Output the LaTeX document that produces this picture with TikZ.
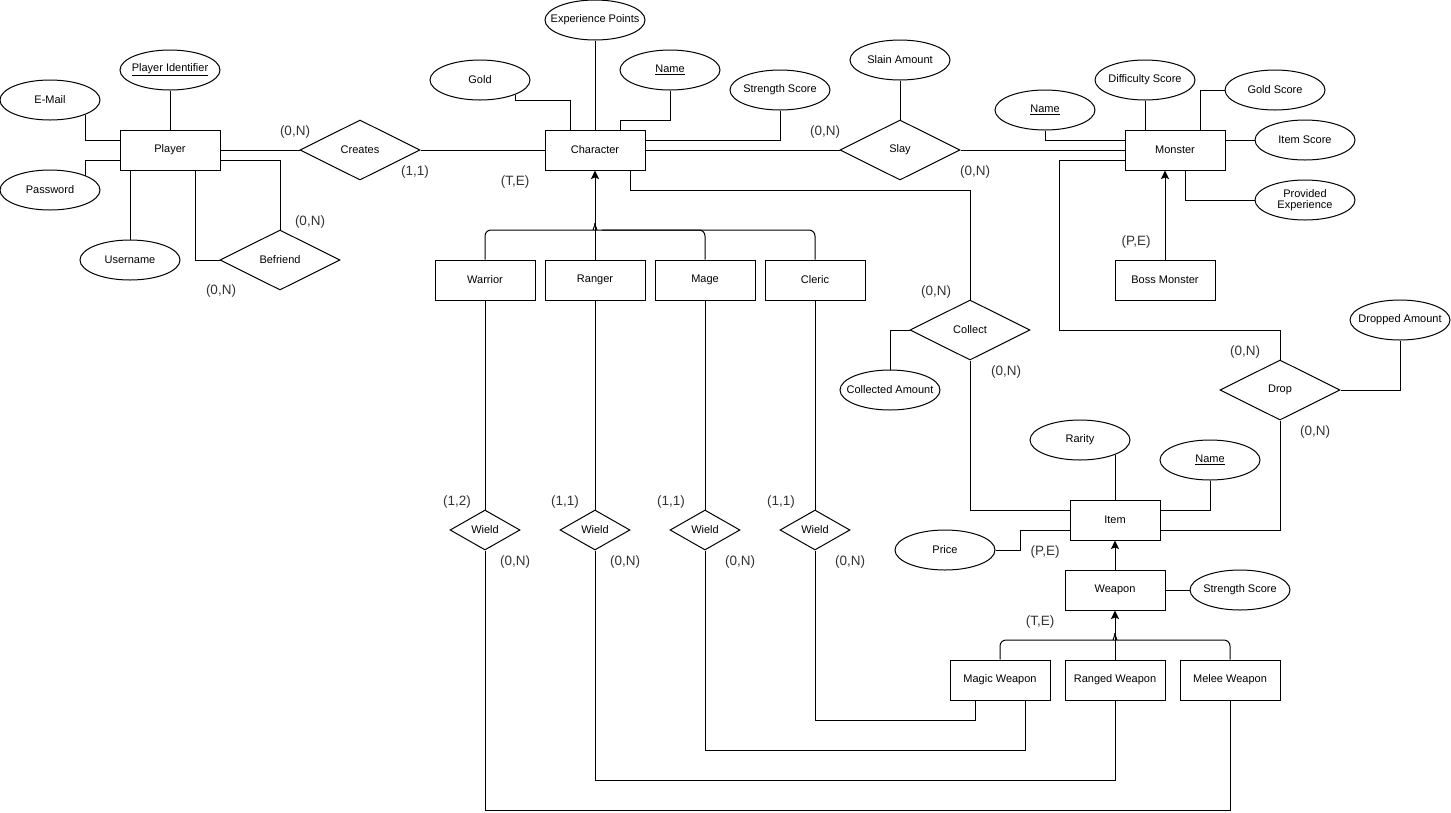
\documentclass[tikz,border=0pt]{standalone}
\usepackage{fontspec}
\setmainfont{Liberation Sans}
\usetikzlibrary{shapes.geometric,arrows.meta,calc}
\newcommand{\zw}[1]{\makebox[0pt]{#1}}
\begin{document}
\begin{tikzpicture}[x=1pt,y=-1pt,line width=1pt,
 every node/.style={font=\fontsize{11}{13}\selectfont},
 ent/.style={draw,rectangle,minimum width=100pt,minimum height=40pt,inner sep=0pt},
 attr/.style={draw,ellipse,minimum width=100pt,minimum height=40pt,inner sep=0pt},
 rel/.style={draw,diamond,aspect=2,minimum width=120pt,minimum height=60pt,inner sep=0pt},
 wrel/.style={rel,minimum width=70pt,minimum height=40pt},
 card/.style={font=\fontsize{13.5}{16}\selectfont,inner sep=0pt,text=black!80},
 isa/.style={-{Stealth[length=8.5pt,width=8pt,inset=1.5pt]}}]
\useasboundingbox (0,0) rectangle (1451,812);

% Player side
\node[ent] (player) at (170,150) {Player};
\node[attr] (pid) at (170,70) {\zw{\underline{Player Identifier}}};
\node[attr] (email) at (50,100) {\zw{E-Mail}};
\node[attr] (password) at (50,190) {\zw{Password}};
\node[attr] (username) at (130,260) {\zw{Username}};
\node[rel] (befriend) at (280,260) {\zw{Befriend}};
\node[rel] (creates) at (360,150) {\zw{Creates}};

% Character
\node[ent] (character) at (595,150) {Character};
\node[attr] (exp) at (595,20) {\zw{Experience Points}};
\node[attr] (gold) at (480,80) {\zw{Gold}};
\node[attr] (cname) at (670,70) {\zw{\underline{Name}}};
\node[attr] (cstr) at (780,90) {\zw{Strength Score}};
\node[ent] (warrior) at (485,280) {Warrior};
\node[ent] (ranger) at (595,280) {Ranger};
\node[ent] (mage) at (705,280) {Mage};
\node[ent] (cleric) at (815,280) {Cleric};

% Slay / Monster
\node[rel] (slay) at (900,150) {\zw{Slay}};
\node[attr] (slain) at (900,60) {\zw{Slain Amount}};
\node[ent] (monster) at (1175,150) {Monster};
\node[attr] (mname) at (1045,110) {\zw{\underline{Name}}};
\node[attr] (diff) at (1145,80) {\zw{Difficulty Score}};
\node[attr] (goldscore) at (1275,90) {\zw{Gold Score}};
\node[attr] (itemscore) at (1305,140) {\zw{Item Score}};
\node[attr] (provexp) at (1305,200) {\zw{\begin{tabular}{@{}c@{}}Provided\\[-2pt]Experience\end{tabular}}};
\node[ent] (boss) at (1165,280) {Boss Monster};

% Collect / Drop / Item
\node[rel] (collect) at (970,330) {\zw{Collect}};
\node[attr] (collamt) at (890,390) {\zw{Collected Amount}};
\node[rel] (drop) at (1280,390) {\zw{Drop}};
\node[attr] (dropped) at (1400,320) {\zw{Dropped Amount}};
\node[ent,minimum width=90pt] (item) at (1115,520) {Item};
\node[attr] (rarity) at (1080,440) {\zw{Rarity}};
\node[attr] (iname) at (1210,460) {\zw{\underline{Name}}};
\node[attr] (price) at (945,550) {\zw{Price}};
\node[ent] (weapon) at (1115,590) {Weapon};
\node[attr] (wstr) at (1240,590) {\zw{Strength Score}};
\node[ent] (magic) at (1000,680) {Magic Weapon};
\node[ent] (ranged) at (1115,680) {Ranged Weapon};
\node[ent] (melee) at (1230,680) {Melee Weapon};

% Wield
\node[wrel] (w1) at (485,530) {\zw{Wield}};
\node[wrel] (w2) at (595,530) {\zw{Wield}};
\node[wrel] (w3) at (705,530) {\zw{Wield}};
\node[wrel] (w4) at (815,530) {\zw{Wield}};

\coordinate (cb) at (595,230);
\coordinate (wb) at (1115,640);

% Player connectors
\draw (pid.south) -- (player.north);
\draw ([yshift=10pt]player.west) -| (email.south east);
\draw ([yshift=-10pt]player.west) -| (password.north east);
\draw (username.north) -- (username.north |- player.south);
\draw ([xshift=25pt]player.south) |- (befriend.west);
\draw ([yshift=-10pt]player.east) -| (befriend.north);
\draw (player.east) -- (creates.west);
\draw (creates.east) -- (character.west);

% Character connectors
\draw (exp.south) -- (character.north);
\draw (gold.south east) -- (gold.south east |- gold.south) -| ([xshift=-25pt]character.north);
\draw (cname.south) -- ++(0,30) -| ([xshift=25pt]character.north);
\draw (cstr.south) |- ([yshift=10pt]character.east);
\draw (character.east) -- (slay.west);
\draw ([xshift=35pt]character.south) -- ++(0,20) -| (collect.north);

% Specialisation of Character
\draw[isa] (ranger.north) -- (character.south);
\draw[rounded corners=6pt] (warrior.north) |- ([xshift=-7pt]cb) [sharp corners] to[out=0,in=-90] ([yshift=7pt]cb);
\draw[rounded corners=6pt] (mage.north) |- ([xshift=7pt]cb) [sharp corners] to[out=180,in=-90] ([yshift=7pt]cb);
\draw[rounded corners=6pt] (cleric.north) |- ([xshift=7pt]cb);

% Slay / Monster connectors
\draw (slain.south) -- (slay.north);
\draw (slay.east) -- (monster.west);
\draw (mname.south) |- ([yshift=10pt]monster.west);
\draw (diff.south) -- (diff.south |- monster.north);
\draw ([xshift=25pt]monster.north) |- (goldscore.west);
\draw ([yshift=10pt]monster.east) -- (itemscore.west);
\draw ([xshift=10pt]monster.south) |- (provexp.west);
\draw[isa] (boss.north) -- (boss.north |- monster.south);
\draw ([yshift=-10pt]monster.west) -- ++(-65,0) -- ++(0,170) -| (drop.north);

% Drop / Collect / Item connectors
\draw (dropped.south) |- (drop.east);
\draw (drop.south) |- ([yshift=-10pt]item.east);
\draw (collamt.north) |- (collect.west);
\draw (collect.south) |- ([yshift=10pt]item.west);
\draw (rarity.south east) -- (rarity.south east |- item.north);
\draw (iname.south) |- ([yshift=10pt]item.east);
\draw (price.east) -- ++(25,0) |- ([yshift=-10pt]item.west);
\draw[isa] (weapon.north) -- (item.south);
\draw (weapon.east) -- (wstr.west);

% Specialisation of Weapon
\draw[isa] (ranged.north) -- (weapon.south);
\draw[rounded corners=6pt] (magic.north) |- ([xshift=-7pt]wb) [sharp corners] to[out=0,in=-90] ([yshift=7pt]wb);
\draw[rounded corners=6pt] (melee.north) |- ([xshift=7pt]wb) [sharp corners] to[out=180,in=-90] ([yshift=7pt]wb);

% Wield connectors
\draw (warrior.south) -- (w1.north);
\draw (ranger.south) -- (w2.north);
\draw (mage.south) -- (w3.north);
\draw (cleric.south) -- (w4.north);
\draw (w1.south) -- ++(0,260) -| (melee.south);
\draw (w2.south) -- ++(0,230) -| (ranged.south);
\draw (w3.south) -- ++(0,200) -| ([xshift=25pt]magic.south);
\draw (w4.south) -- ++(0,170) -| ([xshift=-25pt]magic.south);

% Cardinalities
\node[card] (l1) at (295,132) {(0,N)};
\node[card] (l2) at (415,172) {(1,1)};
\node[card] (l3) at (310,222) {(0,N)};
\node[card] (l4) at (221,291) {(0,N)};
\node[card] (l5) at (515,182) {(T,E)};
\node[card] (l6) at (825,132) {(0,N)};
\node[card] (l7) at (975,172) {(0,N)};
\node[card] (l8) at (1136,242) {(P,E)};
\node[card] (l9) at (936,292) {(0,N)};
\node[card] (l10) at (1006,372) {(0,N)};
\node[card] (l11) at (1245,352) {(0,N)};
\node[card] (l12) at (1315,432) {(0,N)};
\node[card] (l13) at (1045,552) {(P,E)};
\node[card] (l14) at (1040,622) {(T,E)};
\node[card] (l15) at (457,502) {(1,2)};
\node[card] (l16) at (515,562) {(0,N)};
\node[card] (l17) at (565,502) {(1,1)};
\node[card] (l18) at (625,562) {(0,N)};
\node[card] (l19) at (671,502) {(1,1)};
\node[card] (l20) at (740,562) {(0,N)};
\node[card] (l21) at (781,502) {(1,1)};
\node[card] (l22) at (850,562) {(0,N)};
\end{tikzpicture}
\end{document}
